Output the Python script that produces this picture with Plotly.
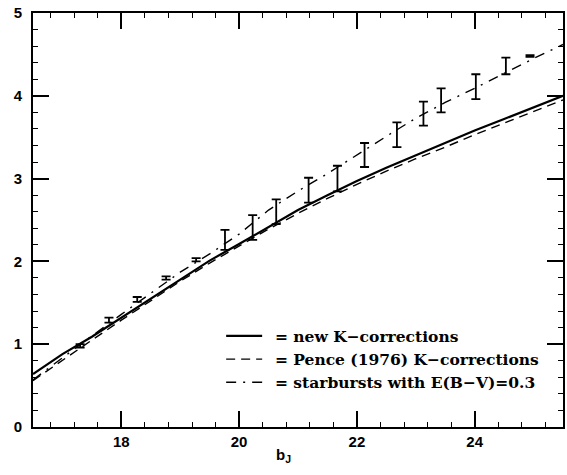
import plotly.graph_objects as go

# Model curves: magnitude vs. quantity on the y-axis
b_model = [16.5, 17.0, 17.5, 18.0, 18.5, 19.0, 19.5, 20.0, 20.5, 21.0,
           21.5, 22.0, 22.5, 23.0, 23.5, 24.0, 24.5, 25.0, 25.5]
dm_new_k = [0.64, 0.88, 1.09, 1.32, 1.56, 1.79, 2.01, 2.21, 2.42, 2.62,
            2.80, 2.97, 3.13, 3.28, 3.43, 3.58, 3.72, 3.86, 4.00]
dm_pence = [0.56, 0.81, 1.05, 1.29, 1.53, 1.76, 1.98, 2.19, 2.39, 2.58,
            2.76, 2.93, 3.09, 3.24, 3.38, 3.53, 3.67, 3.81, 3.95]
dm_starburst = [0.57, 0.84, 1.10, 1.36, 1.62, 1.87, 2.09, 2.33, 2.62, 2.85,
                3.06, 3.29, 3.51, 3.73, 3.92, 4.09, 4.27, 4.45, 4.62]

# Observed points with error bars
b_obs = [17.30, 17.79, 18.27, 18.76, 19.27, 19.76, 20.23, 20.63, 21.18,
         21.67, 22.13, 22.68, 23.13, 23.43, 24.02, 24.53, 24.94]
dm_obs = [0.98, 1.29, 1.54, 1.80, 2.02, 2.26, 2.41, 2.60, 2.86,
          3.00, 3.285, 3.53, 3.785, 3.945, 4.11, 4.36, 4.48]
dm_err = [0.02, 0.03, 0.03, 0.02, 0.02, 0.12, 0.15, 0.15, 0.15,
          0.155, 0.145, 0.15, 0.145, 0.145, 0.15, 0.10, 0.01]

legend_names = ["\u2002= new K\u2212corrections",
                "\u2002= Pence (1976) K\u2212corrections",
                "\u2002= starbursts with E(B\u2212V)=0.3"]

fig = go.Figure()
fig.add_trace(go.Scatter(x=b_model, y=dm_new_k, mode="lines",
                         line=dict(color="black", width=2.2),
                         name=legend_names[0]))
fig.add_trace(go.Scatter(x=b_model, y=dm_pence, mode="lines",
                         line=dict(color="black", width=1.4, dash="9px,6px"),
                         name=legend_names[1]))
fig.add_trace(go.Scatter(x=b_model, y=dm_starburst, mode="lines",
                         line=dict(color="black", width=1.4,
                                   dash="10px,7px,2px,7px"),
                         name=legend_names[2]))
fig.add_trace(go.Scatter(x=b_obs, y=dm_obs, mode="markers",
                         marker=dict(size=2, color="rgba(0,0,0,0)"),
                         error_y=dict(type="data", array=dm_err, visible=True,
                                      color="black", thickness=1.8, width=4.5),
                         showlegend=False))

tick_font = dict(family="Liberation Sans, Arial, sans-serif", size=15,
                 color="black", weight="bold")

axis_common = dict(showline=True, linecolor="black", linewidth=2,
                   mirror="ticks", ticks="inside", tickcolor="black",
                   tickwidth=1.5, ticklen=16, showgrid=False, zeroline=False,
                   tickfont=tick_font)

fig.update_xaxes(range=[16.5, 25.5], dtick=2, tick0=16,
                 minor=dict(ticks="inside", ticklen=5, dtick=0.4, tick0=16,
                            tickwidth=1.2, tickcolor="black", showgrid=False),
                 **axis_common)
fig.update_yaxes(range=[0, 5], dtick=1, tick0=0, ticklabelstandoff=6,
                 minor=dict(ticks="inside", ticklen=5, dtick=0.2, tick0=0,
                            tickwidth=1.2, tickcolor="black", showgrid=False),
                 **axis_common)

fig.add_annotation(text="b<sub>J</sub>", x=20.75, xref="x", y=-0.068,
                   yref="paper", yanchor="middle", showarrow=False,
                   font=dict(family="Liberation Sans, Arial, sans-serif",
                             size=15, color="black", weight="bold"))

fig.update_layout(
    width=567, height=475,
    margin=dict(l=33, r=2, t=13, b=48),
    paper_bgcolor="white", plot_bgcolor="white",
    legend=dict(x=0.355, y=0.26, xanchor="left", yanchor="top",
                bgcolor="rgba(0,0,0,0)", borderwidth=0,
                font=dict(family="DejaVu Serif, serif", size=15.5,
                          color="black", weight="bold"),
                tracegroupgap=0, itemwidth=36),
)

fig.write_html("out.html")
